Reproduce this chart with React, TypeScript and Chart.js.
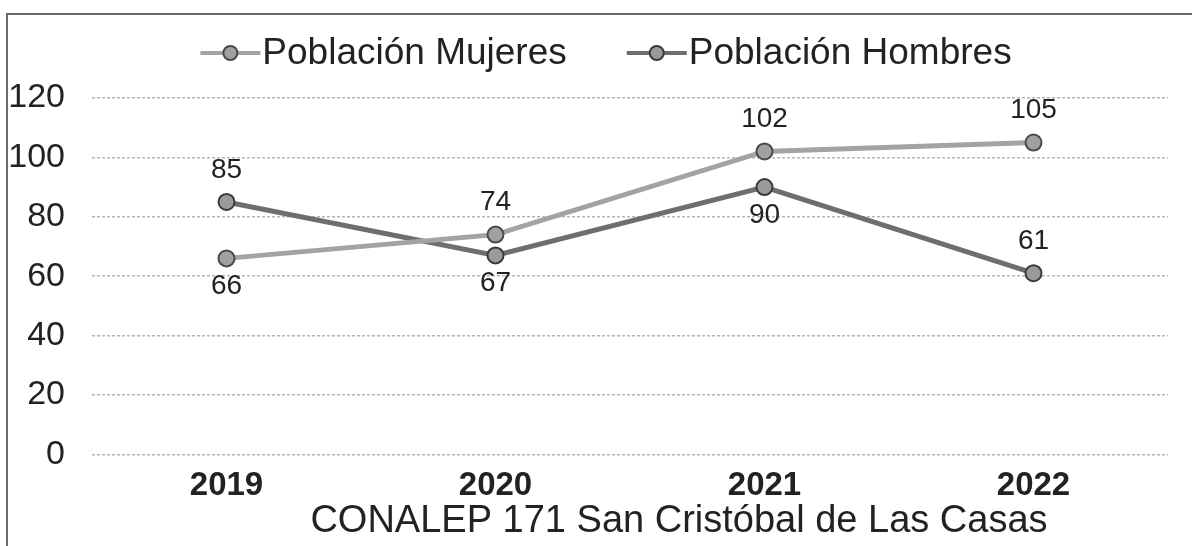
import React, { useEffect, useRef } from "react";
import { Chart, registerables } from "chart.js";

Chart.register(...registerables);

const years = ["2019", "2020", "2021", "2022"];
const mujeres = [66, 74, 102, 105];
const hombres = [85, 67, 90, 61];
const mujeresLabelPos = ["below", "above", "above", "above"];
const hombresLabelPos = ["above", "below", "below", "above"];
const titleText = "CONALEP 171 San Cristóbal de Las Casas";

const FONT = "'Liberation Sans', Arial, sans-serif";

const framePlugin = {
  id: "frame",
  beforeDraw(chart: any) {
    const ctx = chart.ctx;
    ctx.save();
    ctx.fillStyle = "#fff";
    ctx.fillRect(0, 0, chart.width, chart.height);
    ctx.strokeStyle = "#6a6a6a";
    ctx.lineWidth = 2;
    ctx.beginPath();
    ctx.moveTo(7, chart.height);
    ctx.lineTo(7, 14);
    ctx.lineTo(chart.width, 14);
    ctx.stroke();
    ctx.restore();
  },
};

const customLegend = {
  id: "customLegend",
  afterDraw(chart: any) {
    const ctx = chart.ctx;
    ctx.save();
    ctx.font = `37px ${FONT}`;
    ctx.textBaseline = "middle";
    ctx.textAlign = "left";
    const iconW = 60;
    const gapIcon = 2;
    const gapItem = 60;
    const items = chart.data.datasets.map((ds: any) => ({
      ds,
      w: iconW + gapIcon + ctx.measureText(ds.label).width,
    }));
    const total = items.reduce((s: number, it: any) => s + it.w, 0) + gapItem * (items.length - 1);
    let x = chart.width / 2 + 10 - total / 2;
    const y = 53;
    items.forEach((it: any) => {
      const ds = it.ds;
      ctx.strokeStyle = ds.borderColor;
      ctx.lineWidth = 4;
      ctx.beginPath();
      ctx.moveTo(x, y);
      ctx.lineTo(x + iconW, y);
      ctx.stroke();
      ctx.beginPath();
      ctx.arc(x + iconW / 2, y, 7, 0, Math.PI * 2);
      ctx.fillStyle = ds.pointBackgroundColor;
      ctx.fill();
      ctx.lineWidth = 2;
      ctx.strokeStyle = ds.pointBorderColor;
      ctx.stroke();
      ctx.fillStyle = "#222";
      ctx.fillText(ds.label, x + iconW + gapIcon, y + 1);
      x += it.w + gapItem;
    });
    // bottom title
    ctx.font = `38px ${FONT}`;
    ctx.textAlign = "center";
    ctx.textBaseline = "alphabetic";
    ctx.fillStyle = "#222";
    ctx.fillText(titleText, 679, 532);
    ctx.restore();
  },
};

const labelPlugin = {
  id: "valueLabels",
  afterDatasetsDraw(chart: any) {
    const ctx = chart.ctx;
    const positions = [mujeresLabelPos, hombresLabelPos];
    ctx.save();
    ctx.font = `28px ${FONT}`;
    ctx.fillStyle = "#222";
    ctx.textAlign = "center";
    ctx.textBaseline = "middle";
    chart.data.datasets.forEach((ds: any, di: number) => {
      const meta = chart.getDatasetMeta(di);
      meta.data.forEach((pt: any, i: number) => {
        const pos = positions[di][i];
        const dy = pos === "above" ? -32 : 28;
        ctx.fillText(String(ds.data[i]), pt.x, pt.y + dy);
      });
    });
    ctx.restore();
  },
};

export default function App() {
  const ref = useRef<HTMLCanvasElement>(null);
  useEffect(() => {
    const chart = new Chart(ref.current!, {
      type: "line",
      data: {
        labels: years,
        datasets: [
          {
            label: "Población Mujeres",
            data: mujeres,
            borderColor: "#a3a3a3",
            borderWidth: 5,
            pointRadius: 8,
            pointBackgroundColor: "#a0a0a0",
            pointBorderColor: "#4a4a4a",
            pointBorderWidth: 2,
          },
          {
            label: "Población Hombres",
            data: hombres,
            borderColor: "#6e6e6e",
            borderWidth: 5,
            pointRadius: 8,
            pointBackgroundColor: "#9a9a9a",
            pointBorderColor: "#3a3a3a",
            pointBorderWidth: 2,
          },
        ],
      },
      options: {
        animation: false,
        responsive: false,
        maintainAspectRatio: false,
        layout: { padding: { left: 8, right: 24, top: 98, bottom: 36 } },
        plugins: {
          legend: { display: false },
          title: { display: false },
          tooltip: { enabled: false },
        },
        scales: {
          x: {
            offset: true,
            grid: { display: false },
            border: { display: false },
            ticks: {
              font: { family: FONT, size: 33, weight: "bold" },
              color: "#222",
              padding: 4,
            },
          },
          y: {
            min: 0,
            max: 120,
            afterFit: (scale: any) => {
              scale.width = 84;
            },
            ticks: {
              stepSize: 20,
              font: { family: FONT, size: 34 },
              color: "#222",
              padding: 27,
            },
            grid: {
              color: "#b5b5b5",
              lineWidth: 1.5,
              drawTicks: false,
            },
            border: { display: false, dash: [3, 2] },
          },
        },
      },
      plugins: [framePlugin, customLegend, labelPlugin],
    });
    return () => chart.destroy();
  }, []);
  return (
    <div style={{ position: "fixed", left: 0, top: 0, width: 1192, height: 546 }}>
      <canvas ref={ref} width={1192} height={546} style={{ display: "block" }} />
    </div>
  );
}
